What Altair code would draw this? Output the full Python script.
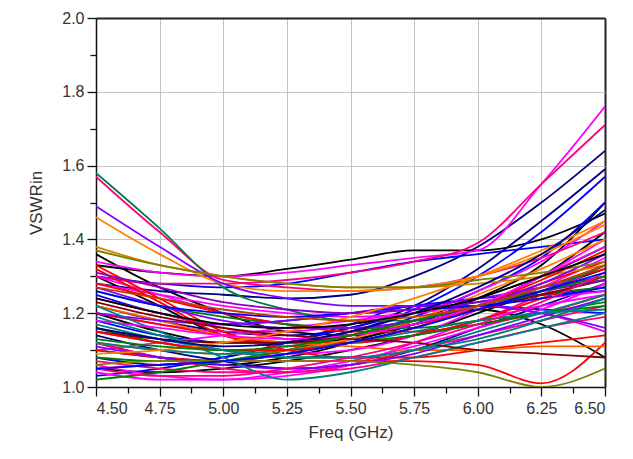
import altair as alt
import pandas as pd

freq = [4.5, 4.75, 5.0, 5.25, 5.5, 5.75, 6.0, 6.25, 6.5]

names = ["K1", "K2", "K3", "K4", "K5", "K6",
         "B1", "B2", "B3", "B4", "B5", "B6", "B7", "B8", "B9",
         "M1", "M2", "M3", "M4", "M5", "M6", "M7", "M8",
         "P1", "P2", "P3", "P4", "P5",
         "R1", "R2", "R3", "R4", "R5", "R6",
         "G1", "G2", "G3", "G4", "G5",
         "O1", "O2", "O3", "O4",
         "U1", "U2", "U3", "U4",
         "T1", "T2", "T3",
         "L1", "L2",
         "N1", "N2",
         "A1", "A2", "A3", "A4", "A5", "A6", "A7", "A8", "A9", "A10", "A11", "A12"]

colors = ["#000000", "#000000", "#000000", "#000000", "#000000", "#000000",
          "#000080", "#000080", "#0000FF", "#0000FF", "#0000FF", "#0000FF", "#0000FF", "#000080", "#0000FF",
          "#FF00FF", "#FF00FF", "#FF00FF", "#FF00FF", "#FF00FF", "#E000E0", "#FF00FF", "#FF00FF",
          "#FF0080", "#FF0080", "#FF0080", "#FF0080", "#FF0080",
          "#FF0000", "#FF0000", "#FF0000", "#FF0000", "#FF0000", "#FF0000",
          "#008040", "#008000", "#008000", "#008000", "#008000",
          "#FF8000", "#FF6000", "#FF8000", "#D08000",
          "#8000FF", "#8000FF", "#8000FF", "#8000FF",
          "#008080", "#008080", "#008080",
          "#808000", "#808000",
          "#800000", "#800000",
          "#0000FF", "#9000C0", "#FF8000", "#FF0000", "#FF00FF", "#008000",
          "#008080", "#FF0080", "#000080", "#C04000", "#000000", "#0000FF"]

values = [
    [1.33, 1.31, 1.30, 1.32, 1.345, 1.37, 1.37, 1.40, 1.47],
    [1.36, 1.27, 1.20, 1.15, 1.14, 1.17, 1.22, 1.30, 1.42],
    [1.30, 1.22, 1.14, 1.12, 1.13, 1.17, 1.24, 1.33, 1.50],
    [1.20, 1.15, 1.12, 1.12, 1.15, 1.18, 1.21, 1.17, 1.08],
    [1.12, 1.08, 1.06, 1.08, 1.12, 1.18, 1.24, 1.30, 1.38],
    [1.05, 1.04, 1.05, 1.07, 1.10, 1.14, 1.20, 1.26, 1.32],
    [1.28, 1.26, 1.25, 1.24, 1.25, 1.30, 1.38, 1.50, 1.64],
    [1.22, 1.18, 1.15, 1.14, 1.16, 1.22, 1.32, 1.45, 1.59],
    [1.18, 1.14, 1.12, 1.12, 1.15, 1.21, 1.30, 1.42, 1.57],
    [1.30, 1.28, 1.27, 1.28, 1.31, 1.34, 1.36, 1.38, 1.40],
    [1.10, 1.08, 1.07, 1.09, 1.13, 1.19, 1.26, 1.35, 1.50],
    [1.25, 1.20, 1.17, 1.18, 1.20, 1.22, 1.24, 1.25, 1.26],
    [1.08, 1.06, 1.08, 1.12, 1.17, 1.22, 1.22, 1.21, 1.20],
    [1.14, 1.10, 1.07, 1.05, 1.06, 1.10, 1.16, 1.22, 1.28],
    [1.03, 1.05, 1.08, 1.12, 1.16, 1.20, 1.23, 1.25, 1.27],
    [1.34, 1.31, 1.30, 1.31, 1.33, 1.35, 1.37, 1.55, 1.76],
    [1.28, 1.25, 1.22, 1.20, 1.19, 1.20, 1.26, 1.34, 1.45],
    [1.15, 1.12, 1.10, 1.09, 1.10, 1.14, 1.21, 1.30, 1.40],
    [1.06, 1.03, 1.02, 1.03, 1.06, 1.12, 1.18, 1.22, 1.25],
    [1.30, 1.25, 1.20, 1.17, 1.16, 1.17, 1.21, 1.27, 1.35],
    [1.20, 1.17, 1.15, 1.15, 1.17, 1.20, 1.22, 1.20, 1.15],
    [1.10, 1.12, 1.14, 1.16, 1.18, 1.20, 1.22, 1.24, 1.26],
    [1.04, 1.02, 1.02, 1.04, 1.07, 1.11, 1.16, 1.21, 1.28],
    [1.57, 1.42, 1.29, 1.27, 1.26, 1.27, 1.30, 1.35, 1.42],
    [1.30, 1.28, 1.28, 1.29, 1.31, 1.34, 1.39, 1.55, 1.71],
    [1.07, 1.05, 1.04, 1.04, 1.06, 1.10, 1.14, 1.18, 1.22],
    [1.12, 1.08, 1.05, 1.04, 1.05, 1.08, 1.12, 1.16, 1.19],
    [1.24, 1.20, 1.16, 1.13, 1.12, 1.14, 1.18, 1.25, 1.33],
    [1.33, 1.24, 1.15, 1.10, 1.08, 1.08, 1.10, 1.12, 1.14],
    [1.32, 1.23, 1.14, 1.11, 1.12, 1.16, 1.22, 1.28, 1.34],
    [1.10, 1.08, 1.07, 1.07, 1.07, 1.07, 1.06, 1.01, 1.12],
    [1.20, 1.17, 1.14, 1.12, 1.12, 1.14, 1.18, 1.24, 1.30],
    [1.05, 1.06, 1.07, 1.10, 1.14, 1.18, 1.22, 1.27, 1.32],
    [1.28, 1.24, 1.20, 1.17, 1.15, 1.15, 1.17, 1.20, 1.25],
    [1.58, 1.43, 1.27, 1.21, 1.18, 1.18, 1.21, 1.26, 1.33],
    [1.02, 1.04, 1.07, 1.10, 1.14, 1.18, 1.22, 1.26, 1.29],
    [1.16, 1.12, 1.10, 1.10, 1.12, 1.16, 1.21, 1.25, 1.27],
    [1.26, 1.22, 1.19, 1.17, 1.16, 1.16, 1.18, 1.20, 1.22],
    [1.08, 1.07, 1.07, 1.09, 1.12, 1.14, 1.17, 1.20, 1.23],
    [1.46, 1.36, 1.28, 1.26, 1.26, 1.27, 1.30, 1.36, 1.44],
    [1.22, 1.18, 1.14, 1.12, 1.11, 1.10, 1.10, 1.11, 1.11],
    [1.12, 1.10, 1.09, 1.10, 1.13, 1.18, 1.25, 1.32, 1.40],
    [1.38, 1.33, 1.30, 1.28, 1.27, 1.27, 1.28, 1.30, 1.33],
    [1.49, 1.38, 1.28, 1.24, 1.22, 1.22, 1.24, 1.27, 1.30],
    [1.27, 1.22, 1.18, 1.16, 1.16, 1.18, 1.22, 1.28, 1.36],
    [1.11, 1.08, 1.06, 1.05, 1.06, 1.09, 1.14, 1.19, 1.24],
    [1.20, 1.18, 1.17, 1.18, 1.20, 1.22, 1.22, 1.20, 1.16],
    [1.22, 1.15, 1.08, 1.02, 1.04, 1.08, 1.12, 1.16, 1.20],
    [1.12, 1.10, 1.09, 1.10, 1.12, 1.15, 1.18, 1.20, 1.21],
    [1.17, 1.13, 1.10, 1.08, 1.08, 1.10, 1.13, 1.18, 1.24],
    [1.37, 1.33, 1.30, 1.28, 1.27, 1.27, 1.29, 1.31, 1.34],
    [1.06, 1.07, 1.07, 1.07, 1.07, 1.06, 1.04, 1.00, 1.05],
    [1.23, 1.19, 1.16, 1.14, 1.13, 1.12, 1.10, 1.09, 1.08],
    [1.15, 1.13, 1.12, 1.12, 1.14, 1.17, 1.21, 1.25, 1.29],
    [1.26, 1.22, 1.20, 1.19, 1.20, 1.21, 1.22, 1.24, 1.27],
    [1.31, 1.27, 1.23, 1.21, 1.20, 1.21, 1.23, 1.26, 1.29],
    [1.09, 1.10, 1.12, 1.15, 1.19, 1.24, 1.30, 1.37, 1.45],
    [1.15, 1.12, 1.10, 1.10, 1.12, 1.16, 1.22, 1.29, 1.37],
    [1.18, 1.16, 1.14, 1.13, 1.14, 1.17, 1.22, 1.30, 1.38],
    [1.13, 1.11, 1.10, 1.11, 1.14, 1.18, 1.22, 1.26, 1.30],
    [1.19, 1.14, 1.10, 1.08, 1.08, 1.10, 1.15, 1.20, 1.25],
    [1.05, 1.03, 1.03, 1.05, 1.08, 1.12, 1.17, 1.23, 1.31],
    [1.16, 1.13, 1.11, 1.12, 1.15, 1.20, 1.27, 1.36, 1.48],
    [1.27, 1.24, 1.21, 1.19, 1.18, 1.19, 1.22, 1.27, 1.33],
    [1.24, 1.20, 1.17, 1.16, 1.17, 1.20, 1.24, 1.30, 1.36],
    [1.05, 1.06, 1.07, 1.09, 1.12, 1.16, 1.21, 1.26, 1.31],
]

x_major = [4.5, 4.75, 5.0, 5.25, 5.5, 5.75, 6.0, 6.25, 6.5]
x_minor = [4.625, 4.875, 5.125, 5.375, 5.625, 5.875, 6.125, 6.375]
y_major = [1.0, 1.2, 1.4, 1.6, 1.8, 2.0]
y_minor = [1.1, 1.3, 1.5, 1.7, 1.9]

rows = []
for i, (n, vals) in enumerate(zip(names, values)):
    for f, v in zip(freq, vals):
        rows.append({"series": n, "idx": i, "freq": f, "vswr": v})
df = pd.DataFrame(rows)

FONT = "Liberation Sans"
GRID = "#c4c4c4"
FRAME = "#222222"
xscale = alt.Scale(domain=[4.5, 6.5], nice=False, zero=False)
yscale = alt.Scale(domain=[1.0, 2.0], nice=False, zero=False)

common = dict(labelFont=FONT, titleFont=FONT, labelFontSize=16, titleFontSize=17,
              titleFontWeight="normal", labelColor="#333333", titleColor="#333333",
              tickColor="#111111", domainColor="#111111", domainWidth=1.5, tickWidth=1.3)

lines = alt.Chart(df).mark_line(strokeWidth=1.8, interpolate="monotone", clip=True).encode(
    x=alt.X("freq:Q", scale=xscale,
            axis=alt.Axis(values=x_major, format=".2f", title="Freq (GHz)", orient="bottom",
                          tickSize=9, labelPadding=4, titlePadding=8, grid=True,
                          gridColor={"condition": {"test": "datum.value >= 6.5", "value": FRAME}, "value": GRID},
                          gridWidth={"condition": {"test": "datum.value >= 6.5", "value": 2}, "value": 1},
                          **common)),
    y=alt.Y("vswr:Q", scale=yscale,
            axis=alt.Axis(values=y_major, format=".1f", title="VSWRin", orient="left",
                          tickSize=9, labelPadding=3, titlePadding=16, grid=True,
                          gridColor={"condition": {"test": "datum.value >= 2", "value": FRAME}, "value": GRID},
                          gridWidth={"condition": {"test": "datum.value >= 2", "value": 2}, "value": 1},
                          **common)),
    color=alt.Color("series:N", scale=alt.Scale(domain=names, range=colors), legend=None),
    order=alt.Order("idx:Q"),
)

dummy = pd.DataFrame({"freq": [4.5], "vswr": [1.0]})
minor = alt.Chart(dummy).mark_point(opacity=0).encode(
    x=alt.X("freq:Q", scale=xscale,
            axis=alt.Axis(values=x_minor, labels=False, title=None, orient="bottom",
                          tickSize=6, grid=False, domain=False, tickColor="#111111", tickWidth=1.3)),
    y=alt.Y("vswr:Q", scale=yscale,
            axis=alt.Axis(values=y_minor, labels=False, title=None, orient="left",
                          tickSize=6, grid=False, domain=False, tickColor="#111111", tickWidth=1.3)),
)

chart = alt.layer(lines, minor).resolve_axis(x="independent", y="independent").properties(
    width=509, height=369,
    autosize=alt.AutoSizeParams(type="none"),
    padding={"left": 88, "top": 10, "right": 20, "bottom": 64},
).configure_view(stroke=FRAME, strokeWidth=2).configure(background="white")

chart.save("out.html", embed_options={"renderer": "svg", "actions": False})
